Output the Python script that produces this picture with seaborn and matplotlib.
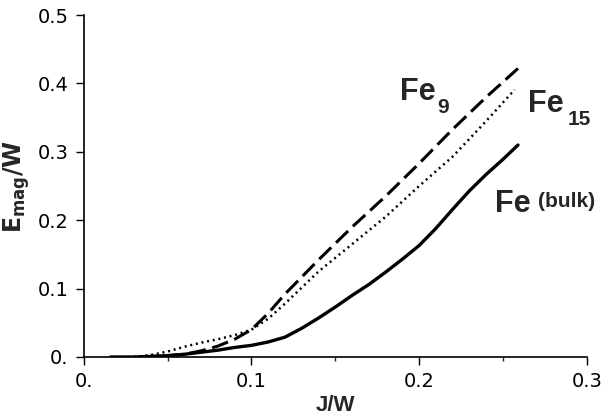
import matplotlib
matplotlib.use("Agg")
import matplotlib.pyplot as plt
import seaborn as sns
import numpy as np
from matplotlib.ticker import MultipleLocator

# J/W vs E_mag/W
fe9_x = [0.035, 0.05, 0.06, 0.07, 0.08, 0.09, 0.10, 0.11, 0.12, 0.14, 0.16, 0.18, 0.20, 0.22, 0.24, 0.259]
fe9_y = [0.0, 0.002, 0.004, 0.009, 0.016, 0.026, 0.040, 0.064, 0.092, 0.142, 0.19, 0.235, 0.283, 0.333, 0.38, 0.422]

fe15_x = [0.03, 0.04, 0.05, 0.06, 0.07, 0.08, 0.09, 0.10, 0.11, 0.12, 0.14, 0.16, 0.18, 0.20, 0.22, 0.24, 0.257]
fe15_y = [0.0, 0.003, 0.008, 0.015, 0.021, 0.026, 0.032, 0.040, 0.056, 0.078, 0.125, 0.165, 0.205, 0.25, 0.293, 0.345, 0.391]

bulk_x = [0.016, 0.03, 0.04, 0.05, 0.06, 0.07, 0.08, 0.09, 0.10, 0.11, 0.12, 0.13, 0.14, 0.15, 0.16, 0.17, 0.18, 0.19, 0.20, 0.21, 0.22, 0.23, 0.24, 0.25, 0.259]
bulk_y = [0.0, 0.0, 0.001, 0.002, 0.004, 0.007, 0.010, 0.014, 0.017, 0.022, 0.029, 0.042, 0.057, 0.073, 0.090, 0.106, 0.124, 0.143, 0.163, 0.188, 0.216, 0.243, 0.267, 0.289, 0.31]

x_ticks = [0.0, 0.1, 0.2, 0.3]
x_ticklabels = ["0.", "0.1", "0.2", "0.3"]
y_ticks = [0.0, 0.1, 0.2, 0.3, 0.4, 0.5]
y_ticklabels = ["0.", "0.1", "0.2", "0.3", "0.4", "0.5"]

sns.set_style("ticks")
plt.rcParams["font.family"] = ["Liberation Sans", "DejaVu Sans"]

fig = plt.figure(figsize=(6.03, 4.2), dpi=100)
ax = fig.add_axes([0.139, 0.15, 0.834, 0.814])

sns.lineplot(x=fe9_x, y=fe9_y, ax=ax, color="black", lw=2.2, estimator=None,
             sort=False)
ax.lines[-1].set_dashes([5.5, 2.2])
sns.lineplot(x=fe15_x, y=fe15_y, ax=ax, color="black", lw=1.8, estimator=None,
             sort=False)
ax.lines[-1].set_dashes([0.8, 1.5])
sns.lineplot(x=bulk_x, y=bulk_y, ax=ax, color="black", lw=2.4, estimator=None,
             sort=False)

ax.set_xlim(0, 0.3)
ax.set_ylim(0, 0.5)
ax.set_xticks(x_ticks)
ax.set_xticklabels(x_ticklabels)
ax.set_yticks(y_ticks)
ax.set_yticklabels(y_ticklabels)
ax.xaxis.set_minor_locator(MultipleLocator(0.05))
ax.tick_params(axis="both", which="major", length=6, width=1, labelsize=15,
               color="black", labelcolor="black", direction="out", pad=5)
ax.tick_params(axis="x", which="minor", length=3, width=1, direction="out")
for lab in ax.get_xticklabels() + ax.get_yticklabels():
    lab.set_family(["DejaVu Sans"])
    lab.set_fontsize(14)
sns.despine(ax=ax)
for s in ["left", "bottom"]:
    ax.spines[s].set_linewidth(1.2)
    ax.spines[s].set_color("black")

ax.set_xlabel("J/W", fontsize=16, fontweight="bold", labelpad=3)
ax.set_ylabel(r"$\mathbf{E_{mag}/W}$", fontsize=17, labelpad=4)

ax.text(0.1884, 0.3757, "Fe", fontsize=22, fontweight="bold", va="baseline")
ax.text(0.211, 0.357, "9", fontsize=15, fontweight="bold", va="baseline")
ax.text(0.2648, 0.358, "Fe", fontsize=22, fontweight="bold", va="baseline")
ax.text(0.2886, 0.339, "15", fontsize=15, fontweight="bold", va="baseline")
ax.text(0.245, 0.212, "Fe", fontsize=22, fontweight="bold", va="baseline")
ax.text(0.2707, 0.219, "(bulk)", fontsize=15, fontweight="bold", va="baseline")

fig.savefig("out.png", dpi=100)
